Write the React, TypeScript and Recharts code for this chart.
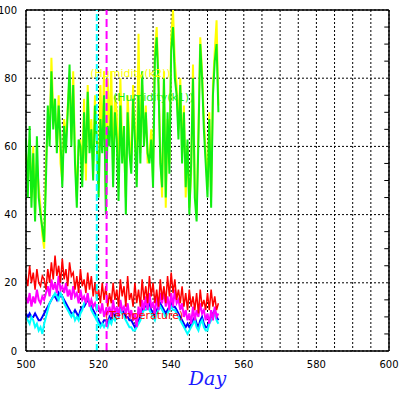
import React from 'react'
import {
  LineChart, Line, XAxis, YAxis, CartesianGrid, ReferenceLine, ReferenceDot,
} from 'recharts'

// half-day samples
const days = [
  500, 500.5, 501, 501.5, 502, 502.5, 503, 503.5, 504, 504.5,
  505, 505.5, 506, 506.5, 507, 507.5, 508, 508.5, 509, 509.5,
  510, 510.5, 511, 511.5, 512, 512.5, 513, 513.5, 514, 514.5,
  515, 515.5, 516, 516.5, 517, 517.5, 518, 518.5, 519, 519.5,
  520, 520.5, 521, 521.5, 522, 522.5, 523, 523.5, 524, 524.5,
  525, 525.5, 526, 526.5, 527, 527.5, 528, 528.5, 529, 529.5,
  530, 530.5, 531, 531.5, 532, 532.5, 533, 533.5, 534, 534.5,
  535, 535.5, 536, 536.5, 537, 537.5, 538, 538.5, 539, 539.5,
  540, 540.5, 541, 541.5, 542, 542.5, 543, 543.5, 544, 544.5,
  545, 545.5, 546, 546.5, 547, 547.5, 548, 548.5, 549, 549.5,
  550, 550.5, 551, 551.5, 552, 552.5, 553,
]

const humidityK2 = [
  58, 50, 62, 45, 60, 40, 55, 48, 42, 34,
  30, 55, 68, 62, 86, 70, 70, 60, 75, 55,
  50, 68, 62, 72, 80, 62, 82, 58, 45, 60,
  62, 52, 74, 50, 78, 62, 68, 55, 75, 60,
  50, 78, 62, 82, 45, 80, 65, 82, 52, 75,
  70, 48, 80, 60, 60, 45, 75, 62, 55, 78,
  65, 50, 93, 58, 78, 62, 72, 55, 58, 65,
  50, 88, 95, 80, 58, 45, 82, 42, 68, 55,
  92, 100, 85, 78, 65, 80, 58, 72, 45, 60,
  42, 52, 84, 48, 40, 65, 92, 82, 68, 58,
  48, 70, 45, 78, 88, 97, 72,
]

const humidityK1 = [
  62, 45, 66, 42, 58, 38, 63, 45, 40, 36,
  32, 50, 72, 60, 82, 65, 74, 58, 72, 62,
  48, 66, 58, 70, 84, 60, 78, 55, 42, 62,
  60, 48, 70, 55, 76, 58, 65, 50, 72, 62,
  45, 68, 58, 75, 40, 66, 60, 72, 48, 70,
  62, 44, 72, 55, 66, 40, 70, 58, 52, 74,
  62, 48, 75, 55, 82, 60, 70, 58, 55, 62,
  48, 85, 92, 78, 55, 48, 80, 45, 70, 52,
  88, 95, 80, 75, 62, 78, 55, 70, 48, 62,
  40, 55, 80, 45, 38, 62, 90, 80, 65, 55,
  45, 68, 42, 75, 85, 90, 70,
]

const temperature = [
  22, 19, 25, 20, 23, 18, 24, 20, 19, 22,
  21, 18, 24, 20, 26, 21, 28, 22, 25, 20,
  27, 21, 24, 19, 26, 22, 23, 18, 22, 17,
  24, 19, 21, 17, 23, 18, 22, 16, 20, 15,
  18, 14, 20, 15, 19, 13, 17, 14, 20, 15,
  18, 13, 21, 16, 19, 13, 22, 15, 17, 13,
  20, 14, 18, 13, 21, 15, 19, 14, 22, 16,
  20, 14, 18, 13, 21, 15, 19, 14, 22, 16,
  23, 17, 21, 15, 18, 14, 19, 13, 17, 12,
  18, 13, 16, 12, 17, 11, 18, 13, 15, 12,
  17, 12, 18, 13, 16, 12, 14,
]

const dewPoint = [
  16, 14, 17, 13, 16, 14, 18, 15, 14, 16,
  15, 17, 19, 16, 21, 18, 20, 17, 22, 18,
  19, 17, 20, 16, 18, 15, 19, 16, 17, 14,
  18, 15, 16, 14, 17, 13, 15, 13, 14, 12,
  13, 11, 14, 10, 12, 11, 13, 10, 15, 11,
  13, 10, 15, 12, 13, 11, 14, 10, 12, 9,
  11, 7, 13, 10, 15, 12, 16, 12, 17, 13,
  14, 11, 16, 12, 17, 14, 18, 13, 16, 12,
  17, 13, 18, 14, 15, 12, 14, 10, 12, 9,
  11, 8, 13, 9, 12, 10, 14, 11, 12, 9,
  11, 8, 12, 9, 13, 10, 11,
]

const windA = [
  11, 10, 11, 10, 10, 11, 10, 9, 9, 10,
  11, 12, 13, 14, 15, 16, 16, 15, 17, 16,
  16, 15, 14, 13, 12, 11, 11, 12, 11, 10,
  12, 13, 13, 14, 15, 14, 13, 12, 11, 10,
  9, 8, 8, 9, 9, 8, 10, 9, 11, 10,
  12, 11, 13, 12, 11, 10, 10, 9, 9, 8,
  7, 8, 9, 10, 12, 13, 13, 14, 14, 12,
  11, 10, 12, 13, 14, 13, 12, 11, 12, 13,
  14, 13, 13, 12, 11, 10, 9, 8, 7, 8,
  7, 8, 9, 10, 8, 7, 9, 10, 8, 7,
  7, 9, 10, 11, 12, 10, 9,
]

const windB = [
  10, 9, 8, 10, 9, 7, 8, 6, 7, 5,
  8, 10, 12, 14, 15, 16, 17, 16, 15, 17,
  16, 14, 13, 12, 11, 10, 11, 9, 10, 9,
  11, 12, 14, 15, 16, 14, 12, 11, 10, 9,
  8, 7, 8, 7, 8, 7, 9, 8, 10, 9,
  11, 10, 12, 11, 10, 9, 8, 7, 7, 6,
  6, 7, 8, 9, 11, 12, 12, 13, 12, 11,
  10, 9, 11, 12, 13, 12, 11, 10, 11, 12,
  13, 12, 12, 11, 10, 9, 8, 7, 6, 5,
  6, 7, 8, 9, 7, 6, 8, 9, 7, 6,
  6, 8, 9, 10, 11, 9, 8,
]

const xTicks = [500, 505, 510, 515, 520, 525, 530, 535, 540, 545, 550, 555, 560, 565, 570, 575, 580, 585, 590, 595, 600]
const yTicks = [0, 20, 40, 60, 80, 100]
const yMinor = [5, 10, 15, 25, 30, 35, 45, 50, 55, 65, 70, 75, 85, 90, 95]

const data = days.map((day, i) => ({
  day,
  k2: humidityK2[i],
  k1: humidityK1[i],
  temp: temperature[i],
  dew: dewPoint[i],
  wa: windA[i],
  wb: windB[i],
}))

const tickFont = { fontSize: 10, fill: '#000', fontFamily: 'DejaVu Sans' }

export default function App() {
  return (
    <div style={{ position: 'absolute', left: 0, top: 0, width: 399, height: 399, background: '#fff' }}>
      <LineChart width={399} height={399} data={data} margin={{ top: 10, right: 10, bottom: 0, left: 0 }}>
        <CartesianGrid stroke="#000" strokeDasharray="2 2" horizontal vertical />
        <XAxis
          type="number"
          dataKey="day"
          domain={[500, 600]}
          ticks={xTicks}
          tickFormatter={(v: number) => (v % 20 === 0 ? String(v) : '')}
          tick={tickFont}
          tickLine={false}
          axisLine={{ stroke: '#000', strokeWidth: 1.5 }}
          height={48}
          tickMargin={4}
          interval={0}
        />
        <YAxis
          type="number"
          domain={[0, 100]}
          ticks={yTicks}
          tick={tickFont}
          tickLine={false}
          axisLine={{ stroke: '#000', strokeWidth: 1.5 }}
          width={26}
          tickMargin={3}
          interval={0}
        />
        <ReferenceLine x={600} stroke="#000" strokeWidth={1.5} />
        <ReferenceLine y={100} stroke="#000" strokeWidth={1.5} />
        {yMinor.map((v) => (
          <ReferenceLine key={'l' + v} segment={[{ x: 500, y: v }, { x: 501.3, y: v }]} stroke="#000" />
        ))}
        {yMinor.map((v) => (
          <ReferenceLine key={'r' + v} segment={[{ x: 598.7, y: v }, { x: 600, y: v }]} stroke="#000" />
        ))}
        <ReferenceDot x={516.3} y={81.5} r={0} stroke="none"
          label={{ value: '(Humidity(k2))', position: 'right', fill: '#ffff00', fontSize: 11, fontFamily: 'DejaVu Sans' }} />
        <ReferenceDot x={522.6} y={74.5} r={0} stroke="none"
          label={{ value: '(Humidity(k1))', position: 'right', fill: '#11ee11', fontSize: 11, fontFamily: 'DejaVu Sans' }} />
        <ReferenceDot x={520.4} y={10.5} r={0} stroke="none"
          label={{ value: '(Temperature)', position: 'right', fill: '#ff0000', fontSize: 11, fontFamily: 'DejaVu Sans' }} />
        <Line dataKey="k2" stroke="#ffff00" strokeWidth={2} dot={false} isAnimationActive={false} />
        <Line dataKey="k1" stroke="#11ee11" strokeWidth={2} dot={false} isAnimationActive={false} />
        <Line dataKey="wa" stroke="#0000ff" strokeWidth={2} dot={false} isAnimationActive={false} />
        <Line dataKey="wb" stroke="#00ffff" strokeWidth={2} dot={false} isAnimationActive={false} />
        <Line dataKey="dew" stroke="#ff00ff" strokeWidth={2} dot={false} isAnimationActive={false} />
        <Line dataKey="temp" stroke="#ff0000" strokeWidth={1.5} dot={false} isAnimationActive={false} />
        <ReferenceLine x={519.5} stroke="#00ffff" strokeWidth={2} strokeDasharray="7 3" />
        <ReferenceLine x={522.2} stroke="#ff00ff" strokeWidth={2} strokeDasharray="8 4" />
      </LineChart>
      <div style={{
        position: 'absolute', left: 0, width: 415, top: 367, textAlign: 'center',
        fontFamily: '"DejaVu Serif", serif', fontStyle: 'italic', fontSize: 19, color: '#1a1aff',
      }}>
        Day
      </div>
    </div>
  )
}
